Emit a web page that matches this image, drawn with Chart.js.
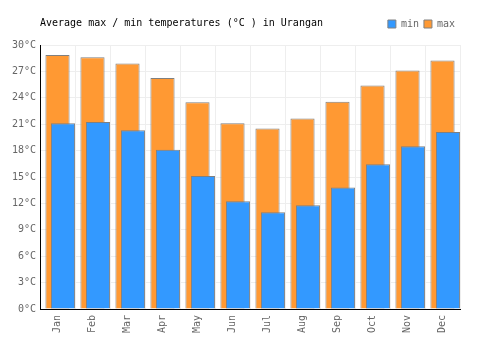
<!DOCTYPE html>
<html>
<head>
<meta charset="utf-8">
<script src="https://cdn.jsdelivr.net/npm/chart.js@4/dist/chart.umd.min.js"></script>
<style>
  html, body { margin: 0; padding: 0; background: #fff; }
  #wrap { width: 500px; height: 350px; }
</style>
</head>
<body>
<div id="wrap"><canvas id="tempChart"></canvas></div>
<script>
const months = ['Jan', 'Feb', 'Mar', 'Apr', 'May', 'Jun', 'Jul', 'Aug', 'Sep', 'Oct', 'Nov', 'Dec'];
const minTemps = [21.1, 21.25, 20.3, 18.1, 15.1, 12.25, 11.0, 11.8, 13.8, 16.45, 18.5, 20.1];
const maxTemps = [28.85, 28.6, 27.9, 26.25, 23.5, 21.1, 20.5, 21.65, 23.55, 25.4, 27.1, 28.25];
const titleText = 'Average max / min temperatures (°C ) in Urangan';

const MONO = '"DejaVu Sans Mono", monospace';

// draws the title on the same line as the legend
const titlePlugin = {
  id: 'sideTitle',
  afterDraw(chart) {
    const ctx = chart.ctx;
    ctx.save();
    ctx.font = '10px ' + MONO;
    ctx.fillStyle = '#000';
    ctx.textBaseline = 'middle';
    ctx.fillText(titleText, chart.chartArea.left, 23);
    ctx.restore();
  }
};

// a bit more room under the legend
const legendGap = {
  id: 'legendGap',
  beforeLayout(chart) {
    const lg = chart.legend;
    if (lg && !lg._gapPatched) {
      const fit = lg.fit;
      lg.fit = function () {
        fit.call(this);
        this.height += 6;
      };
      lg._gapPatched = true;
    }
  }
};

// the min bars sit a bit to the right of the max bars
const shiftPlugin = {
  id: 'shiftMin',
  beforeDatasetDraw(chart, args) {
    if (args.index === 0) {
      chart.ctx.save();
      chart.ctx.translate(5.5, 0);
    }
  },
  afterDatasetDraw(chart, args) {
    if (args.index === 0) chart.ctx.restore();
  }
};

new Chart(document.getElementById('tempChart'), {
  type: 'bar',
  data: {
    labels: months,
    datasets: [
      {
        label: 'min',
        data: minTemps,
        backgroundColor: '#3399ff',
        borderColor: '#808080',
        borderWidth: 1,
        grouped: false,
        categoryPercentage: 1,
        barPercentage: 0.69
      },
      {
        label: 'max',
        data: maxTemps,
        backgroundColor: '#ff9933',
        borderColor: '#808080',
        borderWidth: 1,
        grouped: false,
        categoryPercentage: 1,
        barPercentage: 0.69
      }
    ]
  },
  options: {
    responsive: true,
    maintainAspectRatio: false,
    animation: false,
    layout: { padding: { left: 0, right: 40, top: 14, bottom: 0 } },
    plugins: {
      legend: {
        position: 'top',
        align: 'end',
        labels: {
          boxWidth: 8,
          boxHeight: 8,
          padding: 5,
          color: '#666',
          font: { family: MONO, size: 10 }
        }
      },
      title: { display: false },
      tooltip: { enabled: false }
    },
    scales: {
      x: {
        grid: { color: '#eeeeee', drawTicks: false },
        border: { color: '#000', width: 1 },
        ticks: {
          color: '#666',
          font: { family: MONO, size: 10 },
          maxRotation: 90,
          minRotation: 90,
          padding: 6
        },
        afterFit(scale) { scale.height = 41; }
      },
      y: {
        min: 0,
        max: 30,
        grid: { color: '#eeeeee', drawTicks: false },
        border: { color: '#000', width: 1 },
        ticks: {
          stepSize: 3,
          color: '#666',
          font: { family: MONO, size: 10 },
          padding: 4,
          callback: v => v + '°C'
        },
        afterFit(scale) { scale.width = 40; }
      }
    }
  },
  plugins: [titlePlugin, legendGap, shiftPlugin]
});
</script>
</body>
</html>
